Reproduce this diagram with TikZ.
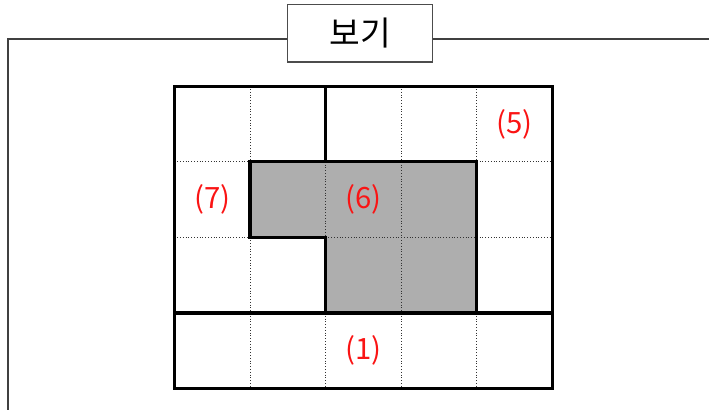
\documentclass[tikz,border=0pt]{standalone}
\usepackage{fontspec}
\setmainfont{Noto Sans CJK KR}
\usetikzlibrary{positioning}
\definecolor{cellgray}{RGB}{174,174,174}
\definecolor{labelred}{RGB}{250,20,20}
\tikzset{
    framebox/.style={
        draw=black!70, line width=1pt, fill=white, inner sep=0pt,
        minimum width=108.75pt, minimum height=43pt, font=\fontsize{25}{25}\selectfont
    },
    frameline/.style={draw=black!75, line width=1pt},
    gridthick/.style={line width=2.3pt, line cap=rect},
    griddot/.style={black!80, line width=0.7pt, dash pattern=on 0.7pt off 1.4pt},
    celllabel/.style={text=labelred, font=\fontsize{22}{22}\selectfont}
}

\begin{document}
\begin{tikzpicture}[x=0.75pt, y=-0.75pt]
    \useasboundingbox (0,0) rectangle (709,410);

    % frame with title
    \node[framebox] (title) at (360,33.5) {보기};
    \coordinate (topl) at (8,39);
    \coordinate (botl) at (8,410);
    \coordinate (topr) at (709,39);
    \draw[frameline] (title.west |- topl) -- (topl) -- (botl);
    \draw[frameline] (title.east |- topl) -- (topr);

    % board, 5 x 4 cells
    \begin{scope}[shift={(174.4,86.2)}, scale=75.6]
        \fill[cellgray] (1,1) -- (4,1) -- (4,3) -- (2,3) -- (2,2) -- (1,2) -- cycle;
        \foreach \i in {1,...,4}
            \draw[griddot] (\i,0) -- (\i,4);
        \foreach \j in {1,...,3}
            \draw[griddot] (0,\j) -- (5,\j);
        \draw[gridthick] (0,0) rectangle (5,4);
        \draw[gridthick] (2,0) -- (2,1);
        \draw[gridthick] (0,3) -- (5,3);
        \draw[gridthick] (1,1) -- (4,1) -- (4,3) -- (2,3) -- (2,2) -- (1,2) -- cycle;

        \node[celllabel] (lbl5) at (4.5,0.5) {(5)};
        \node[celllabel] (lbl7) at (0.5,1.5) {(7)};
        \node[celllabel] (lbl6) at (2.5,1.5) {(6)};
        \node[celllabel] (lbl1) at (2.5,3.5) {(1)};
    \end{scope}
\end{tikzpicture}
\end{document}
